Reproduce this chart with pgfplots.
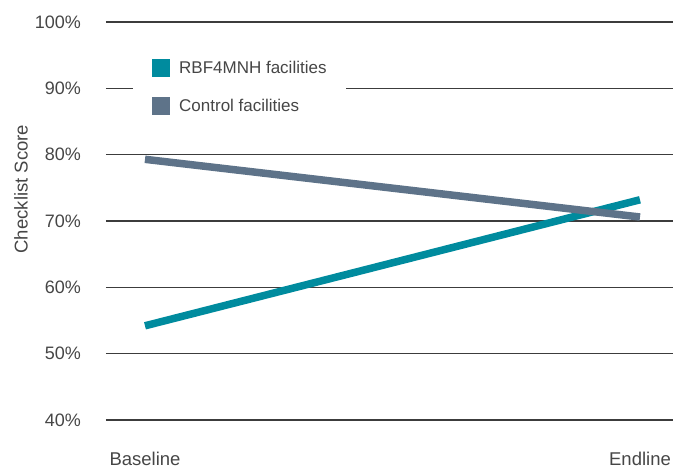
\documentclass[border=0pt]{standalone}
\usepackage{fontspec}
\setmainfont{Liberation Sans}
\usepackage{pgfplots}
\pgfplotsset{compat=1.18}
\usetikzlibrary{calc}
\definecolor{tealc}{RGB}{0,139,158}
\definecolor{slatec}{RGB}{94,115,137}
\definecolor{gridc}{RGB}{60,60,60}
\definecolor{textc}{RGB}{70,70,70}
\begin{document}
\begin{tikzpicture}
\begin{axis}[
  name=ax,
  scale only axis,
  width=567bp, height=398bp,
  xmin=-0.0788, xmax=1.0667,
  ymin=40, ymax=100,
  axis line style={draw=none},
  xtick={0,1},
  xticklabels={Baseline,Endline},
  ytick={40,50,60,70,80,90,100},
  /pgf/number format/assume math mode=true,
  yticklabel={\pgfmathprintnumber{\tick}\%},
  major tick length=0pt,
  ymajorgrids,
  grid style={gridc, line width=1.2bp},
  yticklabel style={font=\fontsize{18bp}{20bp}\selectfont, text=textc, inner sep=0pt, anchor=east, xshift=-25bp},
  xticklabel style={font=\fontsize{18.5bp}{20bp}\selectfont, text=textc, inner sep=0pt, anchor=base, yshift=-45bp},
  ylabel={Checklist Score},
  ylabel style={font=\fontsize{18.5bp}{20bp}\selectfont, text=textc, at={(axis description cs:-0.15,0.58)}, anchor=center},
  clip=false,
  legend cell align=left,
  legend image code/.code={\fill[#1,draw=none] (0bp,-9bp) rectangle (18bp,9bp); \path[draw=none,fill=none] (0bp,0bp) -- (27bp,0bp);},
  legend style={at={(axis description cs:0.0476,0.9523)}, anchor=north west, fill=white, draw=none,
    inner xsep=19bp, inner ysep=18bp, row sep=20bp,
    font=\fontsize{17bp}{19bp}\selectfont, text=textc,
    nodes={inner sep=0pt, anchor=west}},
]
\addplot[tealc, line width=7.5bp] coordinates {(0,54.2) (1,73.2)};
\addlegendentry{RBF4MNH facilities}
\addplot[slatec, line width=7.5bp] coordinates {(0,79.3) (1,70.6)};
\addlegendentry{Control facilities}
\end{axis}
\pgfresetboundingbox
\path[use as bounding box] ($(ax.south west)+(-106bp,-48bp)$) rectangle ($(ax.north east)+(0bp,22bp)$);
\end{tikzpicture}
\end{document}
